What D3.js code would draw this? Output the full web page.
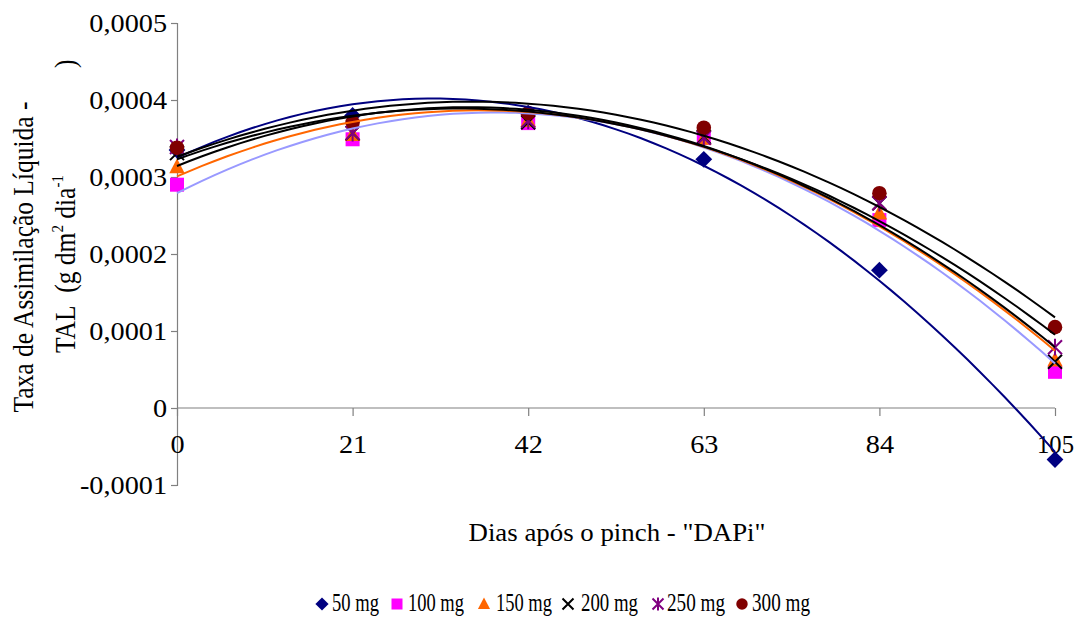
<!DOCTYPE html>
<html>
<head>
<meta charset="utf-8">
<script src="https://cdn.jsdelivr.net/npm/d3@7"></script>
<style>
  body { margin: 0; background: #fff; }
  svg text { font-family: "Liberation Serif", "Times New Roman", serif; fill: #000; }
</style>
</head>
<body>
<svg id="chart" width="1075" height="618"></svg>
<script>
// days after pinch
const days = [0, 21, 42, 63, 84, 105];
const seriesNames = ["50 mg", "100 mg", "150 mg", "200 mg", "250 mg", "300 mg"];
// TAL values (g dm2 dia-1)
const tal50  = [0.000335, 0.000380, 0.000383, 0.000323, 0.000179, -0.000067];
const tal100 = [0.000290, 0.000349, 0.000370, 0.000351, 0.000244, 0.000047];
const tal150 = [0.000313, 0.000355, 0.000373, 0.000350, 0.000253, 0.000062];
const tal200 = [0.000331, 0.000357, 0.000371, 0.000352, 0.000266, 0.000060];
const tal250 = [0.000339, 0.000357, 0.000373, 0.000351, 0.000266, 0.000079];
const tal300 = [0.000338, 0.000371, 0.000383, 0.000364, 0.000279, 0.000105];
const yTicks = [-0.0001, 0, 0.0001, 0.0002, 0.0003, 0.0004, 0.0005];

const allSeries = [tal50, tal100, tal150, tal200, tal250, tal300];
const markerColors = ["#000080", "#ff00ff", "#ff6600", "#000000", "#800080", "#800000"];
const lineColors = ["#000080", "#9999ff", "#ff6600", "#000000", "#000000", "#000000"];
const shapes = ["diamond", "square", "triangle", "x", "star", "circle"];

const svg = d3.select("#chart");
const x = d3.scaleLinear().domain([0, 105]).range([177, 1055]);
const y = d3.scaleLinear().domain([-0.0001, 0.0005]).range([485, 23]);

// the picture is a bit wider than tall, so text is stretched sideways
const SX = 1.13;
function stretch(sel, factor) {
  sel.each(function () {
    const len = this.getComputedTextLength();
    d3.select(this).attr("textLength", len * factor).attr("lengthAdjust", "spacingAndGlyphs");
  });
}

const fmt = d => d === 0 ? "0" : d3.format(".4f")(d).replace(".", ",").replace("−", "-");

// y axis
const yAxis = svg.append("g").attr("transform", "translate(177,0)")
  .call(d3.axisLeft(y).tickValues(yTicks).tickSize(6).tickPadding(4).tickFormat(fmt));
// x axis at zero
const xAxis = svg.append("g").attr("transform", "translate(0," + y(0) + ")")
  .call(d3.axisBottom(x).tickValues(days).tickSize(8).tickPadding(22).tickFormat(d3.format("d")));
[yAxis, xAxis].forEach(a => {
  a.select(".domain").attr("stroke", "#808080").attr("stroke-width", 1.2);
  a.selectAll(".tick line").attr("stroke", "#808080").attr("stroke-width", 1.2);
  a.selectAll("text").attr("font-size", 25).attr("font-family", "Liberation Serif");
});
xAxis.select(".domain").attr("d", "M177,0H1055");
xAxis.selectAll(".tick text").attr("dy", "0.6em");
stretch(yAxis.selectAll(".tick text"), SX);
stretch(xAxis.selectAll(".tick text").filter(d => d !== 105), SX);
xAxis.selectAll(".tick text").filter(d => d === 105)
  .attr("textLength", 37).attr("lengthAdjust", "spacingAndGlyphs");

// axis titles
svg.append("text").attr("transform", `translate(33,257) rotate(-90) scale(1,${SX})`)
  .attr("text-anchor", "middle").attr("font-size", 25.5).text("Taxa de Assimilação Líquida -");
const t2 = svg.append("text").attr("transform", `translate(75,353) rotate(-90) scale(1,${SX})`)
  .attr("font-size", 25.5).attr("xml:space", "preserve");
t2.append("tspan").text("TAL\u00a0\u00a0(g dm");
t2.append("tspan").attr("font-size", 15).attr("dy", -11).text("2");
t2.append("tspan").attr("dy", 11).text(" dia");
t2.append("tspan").attr("font-size", 15).attr("dy", -11).text("-1");
t2.append("tspan").attr("x", 285).attr("dy", 11).text(")");
svg.append("text").attr("x", 617).attr("y", 541).attr("text-anchor", "middle")
  .attr("font-size", 25).attr("textLength", 297).attr("lengthAdjust", "spacingAndGlyphs")
  .text("Dias após o pinch - \"DAPi\"");

// marker shapes
function marker(g, shape, color, s) {
  if (shape === "circle") g.append("circle").attr("r", s * 0.52).attr("fill", color);
  else if (shape === "square") g.append("rect").attr("x", -s / 2).attr("y", -s / 2).attr("width", s).attr("height", s).attr("fill", color);
  else if (shape === "diamond") g.append("path").attr("d", `M0,${-s * 0.6}L${s * 0.6},0L0,${s * 0.6}L${-s * 0.6},0Z`).attr("fill", color);
  else if (shape === "triangle") g.append("path").attr("d", `M0,${-s * 0.6}L${s * 0.55},${s * 0.45}L${-s * 0.55},${s * 0.45}Z`).attr("fill", color);
  else if (shape === "x") g.append("path").attr("d", `M${-s / 2},${-s / 2}L${s / 2},${s / 2}M${s / 2},${-s / 2}L${-s / 2},${s / 2}`).attr("stroke", color).attr("stroke-width", 2);
  else if (shape === "star") g.append("path").attr("d", `M${-s / 2},${-s / 2}L${s / 2},${s / 2}M${s / 2},${-s / 2}L${-s / 2},${s / 2}M0,${-s * 0.6}V${s * 0.6}`).attr("stroke", color).attr("stroke-width", 2);
}

// markers
allSeries.forEach((vals, i) => {
  svg.append("g").selectAll("g").data(vals).join("g")
    .attr("transform", (d, j) => `translate(${x(days[j])},${y(d)})`)
    .each(function () { marker(d3.select(this), shapes[i], markerColors[i], 14); });
});

// polynomial (order 2) trendlines, least squares like the spreadsheet
function polyfit2(xs, ys) {
  let n = xs.length, sx = 0, sx2 = 0, sx3 = 0, sx4 = 0, sy = 0, sxy = 0, sx2y = 0;
  xs.forEach((xv, k) => {
    const yv = ys[k];
    sx += xv; sx2 += xv * xv; sx3 += xv ** 3; sx4 += xv ** 4;
    sy += yv; sxy += xv * yv; sx2y += xv * xv * yv;
  });
  const M = [[n, sx, sx2, sy], [sx, sx2, sx3, sxy], [sx2, sx3, sx4, sx2y]];
  for (let c = 0; c < 3; c++) {
    for (let r = c + 1; r < 3; r++) {
      const f = M[r][c] / M[c][c];
      for (let k = c; k < 4; k++) M[r][k] -= f * M[c][k];
    }
  }
  const b = [0, 0, 0];
  for (let r = 2; r >= 0; r--) {
    let s = M[r][3];
    for (let k = r + 1; k < 3; k++) s -= M[r][k] * b[k];
    b[r] = s / M[r][r];
  }
  return xv => b[0] + b[1] * xv + b[2] * xv * xv;
}

const line = d3.line().x(d => x(d[0])).y(d => y(d[1]));
const xs = d3.range(0, 105.01, 1.5);
allSeries.forEach((vals, i) => {
  const f = polyfit2(days, vals);
  svg.append("path").datum(xs.map(d => [d, f(d)]))
    .attr("fill", "none").attr("stroke", lineColors[i]).attr("stroke-width", 2)
    .attr("d", line);
});

// legend
const legendMarkX = [322, 397, 484, 568, 658, 742];
const legendTextX = [332, 408, 496, 581, 667, 752];
const legendTextW = [47, 56, 56, 57, 58, 58];
seriesNames.forEach((name, i) => {
  const g = svg.append("g").attr("transform", `translate(${legendMarkX[i]},604)`);
  marker(g, shapes[i], markerColors[i], 11);
  svg.append("text").attr("x", legendTextX[i]).attr("y", 611).attr("font-size", 25)
    .attr("textLength", legendTextW[i]).attr("lengthAdjust", "spacingAndGlyphs").text(name);
});
</script>
</body>
</html>
